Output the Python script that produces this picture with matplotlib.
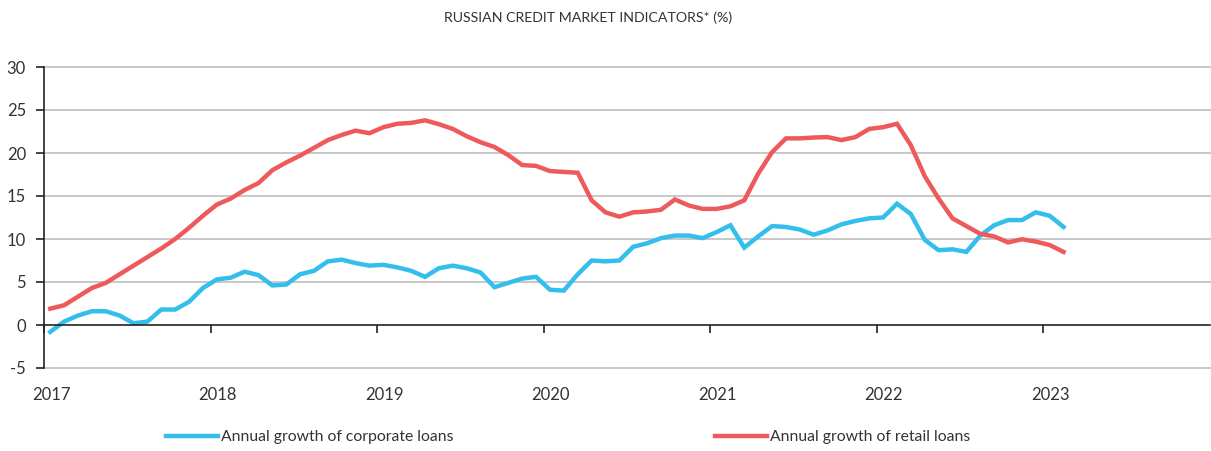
import matplotlib
matplotlib.use("Agg")
import matplotlib.pyplot as plt
import matplotlib.transforms as mtransforms
import numpy as np

# monthly data, Jan 2017 - Feb 2023
corporate = [-0.8, 0.4, 1.1, 1.6, 1.6, 1.1, 0.2, 0.4, 1.8, 1.8, 2.7, 4.3,
             5.3, 5.5, 6.2, 5.8, 4.6, 4.7, 5.9, 6.3, 7.4, 7.6, 7.2, 6.9,
             7.0, 6.7, 6.3, 5.6, 6.6, 6.9, 6.6, 6.1, 4.4, 4.9, 5.4, 5.6,
             4.1, 4.0, 5.9, 7.5, 7.4, 7.5, 9.1, 9.5, 10.1, 10.4, 10.4, 10.1,
             10.8, 11.6, 9.0, 10.3, 11.5, 11.4, 11.1, 10.5, 11.0, 11.7, 12.1, 12.4,
             12.5, 14.1, 12.9, 9.9, 8.7, 8.8, 8.5, 10.4, 11.6, 12.2, 12.2, 13.1,
             12.7, 11.4]
retail = [1.9, 2.3, 3.3, 4.3, 4.9, 5.9, 6.9, 7.9, 8.9, 10.0, 11.3, 12.7,
          14.0, 14.7, 15.7, 16.5, 18.0, 18.9, 19.7, 20.6, 21.5, 22.1, 22.6, 22.3,
          23.0, 23.4, 23.5, 23.8, 23.35, 22.8, 21.95, 21.25, 20.7, 19.75, 18.6, 18.5,
          17.9, 17.8, 17.7, 14.5, 13.1, 12.6, 13.1, 13.2, 13.4, 14.6, 13.9, 13.5,
          13.5, 13.8, 14.5, 17.6, 20.1, 21.7, 21.7, 21.8, 21.85, 21.5, 21.85, 22.8,
          23.0, 23.4, 20.9, 17.3, 14.7, 12.4, 11.5, 10.6, 10.3, 9.6, 9.97, 9.7,
          9.3, 8.5]
years = [2017, 2018, 2019, 2020, 2021, 2022, 2023]
yticks = [-5, 0, 5, 10, 15, 20, 25, 30]

x = 2017 + (np.arange(len(retail)) + 0.45) / 12

plt.rcParams['font.family'] = ['Lato', 'DejaVu Sans']

fig = plt.figure(figsize=(12.11, 4.51), dpi=100)
ax = fig.add_axes([44 / 1211, 1 - 368 / 451, (1210 - 44) / 1211, (368 - 67) / 451])

blue = '#33BEEB'
red = '#EE5A5C'
l1, = ax.plot(x, corporate, color=blue, lw=3.2, solid_joinstyle='miter')
l2, = ax.plot(x, retail, color=red, lw=3.2, solid_joinstyle='miter')

ax.set_xlim(2017, 2024)
ax.set_ylim(-5, 30)
ax.set_yticks(yticks)
ax.set_yticklabels([str(v) for v in yticks])
for v in yticks:
    if v != 0:
        ax.axhline(v, color='#c8c8c8', lw=1.4, zorder=0, clip_on=False)

ax.set_xticks(years)
ax.set_xticklabels([str(y) for y in years])

for s in ['top', 'right']:
    ax.spines[s].set_visible(False)
ax.spines['bottom'].set_position(('data', 0))
ax.spines['bottom'].set_color('#222222')
ax.spines['left'].set_color('#222222')
ax.spines['bottom'].set_linewidth(1.2)
ax.spines['left'].set_linewidth(1.2)

ax.tick_params(axis='y', direction='out', length=6, width=1.2, color='#222222',
               labelsize=12, labelcolor='#333333', pad=7)
ax.tick_params(axis='x', direction='out', length=6, width=1.2, color='#222222',
               labelsize=12, labelcolor='#333333', pad=39)

offset = mtransforms.ScaledTranslation(7 / 100, 0, fig.dpi_scale_trans)
for lab in ax.get_xticklabels():
    lab.set_transform(lab.get_transform() + offset)

fig.text(588 / 1211, 1 - 18 / 451, 'RUSSIAN CREDIT MARKET INDICATORS* (%)',
         ha='center', va='center', fontsize=10.2, color='#333333')

leg1 = fig.legend([l1], ['Annual growth of corporate loans'], loc='center left',
                  bbox_to_anchor=(160 / 1211, 1 - 437 / 451), frameon=False,
                  fontsize=11.3, handlelength=3.3, handletextpad=0.2, borderaxespad=0)
leg2 = fig.legend([l2], ['Annual growth of retail loans'], loc='center left',
                  bbox_to_anchor=(709 / 1211, 1 - 437 / 451), frameon=False,
                  fontsize=11.3, handlelength=3.3, handletextpad=0.2, borderaxespad=0)
for leg in (leg1, leg2):
    for t in leg.get_texts():
        t.set_color('#333333')

fig.savefig('out.png', dpi=100)
